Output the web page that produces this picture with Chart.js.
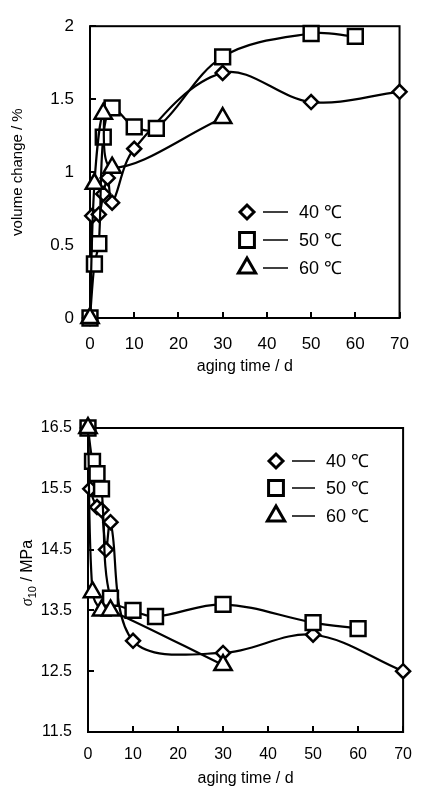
<!DOCTYPE html>
<html>
<head>
<meta charset="utf-8">
<script src="https://cdn.jsdelivr.net/npm/chart.js@4.4.0/dist/chart.umd.min.js"></script>
<style>
  html, body { margin: 0; padding: 0; background: #fff; }
  .box { position: absolute; left: 0; width: 425px; }
  #volBox { top: 0; height: 395px; }
  #strBox { top: 395px; height: 394px; }
</style>
</head>
<body>
<div class="box" id="volBox"><canvas id="volumeChart" width="425" height="395"></canvas></div>
<div class="box" id="strBox"><canvas id="strengthChart" width="425" height="394"></canvas></div>
<script>
// aging time (d) of each series
const days40 = [0, 0.5, 2, 3, 4, 5, 10, 30, 50, 70];
const days50 = [0, 1, 2, 3, 5, 10, 15, 30, 50, 60];
const days60 = [0, 1, 3, 5, 30];

// volume change / %
const vol40 = [0, 0.70, 0.71, 0.85, 0.96, 0.79, 1.16, 1.68, 1.48, 1.55];
const vol50 = [0, 0.37, 0.51, 1.24, 1.44, 1.31, 1.30, 1.79, 1.95, 1.93];
const vol60 = [0, 0.92, 1.40, 1.03, 1.37];

// sigma10 / MPa
const str40 = [16.5, 15.5, 15.2, 15.15, 14.5, 14.95, 13.0, 12.8, 13.1, 12.5];
const str50 = [16.5, 15.95, 15.75, 15.5, 13.7, 13.5, 13.4, 13.6, 13.3, 13.2];
const str60 = [16.5, 13.8, 13.5, 13.5, 12.6];

const tempLabels = ['40 \u2103', '50 \u2103', '60 \u2103'];
const dayTicks = [0, 10, 20, 30, 40, 50, 60, 70];
const volTicks = [0, 0.5, 1, 1.5, 2];
const strTicks = [11.5, 12.5, 13.5, 14.5, 15.5, 16.5];

const FONT = "'Liberation Sans Narrow', 'Liberation Sans', Arial, sans-serif";
const markers = [
  { pointStyle: 'rectRot', radius: 7 },
  { pointStyle: 'rect', radius: 10.5 },
  { pointStyle: 'triangle', radius: 10 }
];

function toXY(xs, ys) {
  return xs.map((x, i) => ({ x: x, y: ys[i] }));
}

function series(label, xs, ys, m, order) {
  return {
    label: label,
    data: toXY(xs, ys),
    borderColor: '#000',
    borderWidth: 2.2,
    backgroundColor: '#fff',
    pointStyle: m.pointStyle,
    pointRadius: m.radius,
    pointBorderWidth: 2.5,
    pointBackgroundColor: '#fff',
    pointBorderColor: '#000',
    tension: 0.35,
    clip: false,
    order: order
  };
}

// box round the plot and short ticks pointing inward
const framePlugin = {
  id: 'frame',
  beforeDatasetsDraw(chart) {
    const { ctx, chartArea: a } = chart;
    const xs = chart.scales.x, ys = chart.scales.y;
    ctx.save();
    ctx.strokeStyle = '#000';
    ctx.lineWidth = 2;
    ctx.strokeRect(a.left, a.top, a.right - a.left, a.bottom - a.top);
    ctx.beginPath();
    xs.ticks.forEach(t => {
      const px = Math.round(xs.getPixelForValue(t.value));
      ctx.moveTo(px, a.bottom);
      ctx.lineTo(px, a.bottom - 6);
    });
    ys.ticks.forEach(t => {
      const py = Math.round(ys.getPixelForValue(t.value));
      ctx.moveTo(a.left, py);
      ctx.lineTo(a.left + 6, py);
    });
    ctx.stroke();
    ctx.restore();
  }
};

function drawMarker(ctx, m, x, y) {
  ctx.fillStyle = '#fff';
  ctx.strokeStyle = '#000';
  ctx.lineWidth = 3;
  Chart.helpers.drawPoint(ctx, { pointStyle: m.pointStyle, radius: m.radius, rotation: 0, borderWidth: 3 }, x, y);
}

// legend inside the plot
function legendPlugin(pos) {
  return {
    id: 'insideLegend',
    afterDraw(chart) {
      const ctx = chart.ctx;
      ctx.save();
      tempLabels.forEach((lab, i) => {
        const y = pos.rows[i];
        drawMarker(ctx, markers[i], pos.mx, y);
        ctx.strokeStyle = '#000';
        ctx.lineWidth = 1.5;
        ctx.beginPath();
        ctx.moveTo(pos.l1, y);
        ctx.lineTo(pos.l2, y);
        ctx.stroke();
        ctx.fillStyle = '#000';
        ctx.font = '18px ' + FONT;
        ctx.textBaseline = 'middle';
        ctx.textAlign = 'left';
        ctx.fillText(lab, pos.tx, y + 1);
      });
      ctx.restore();
    }
  };
}

// rotated y title with subscript: sigma_10 / MPa
const sigmaTitle = {
  id: 'sigmaTitle',
  afterDraw(chart) {
    const ctx = chart.ctx;
    const parts = [
      { t: '\u03c3', f: 'italic 16px "Liberation Serif", serif', dy: 0 },
      { t: '10', f: '11px ' + FONT, dy: 4 },
      { t: ' / MPa', f: '16px ' + FONT, dy: 0 }
    ];
    ctx.save();
    let w = 0;
    parts.forEach(p => { ctx.font = p.f; p.w = ctx.measureText(p.t).width; w += p.w; });
    ctx.translate(32, 178);
    ctx.rotate(-Math.PI / 2);
    ctx.fillStyle = '#000';
    ctx.textBaseline = 'alphabetic';
    let x = -w / 2;
    parts.forEach(p => { ctx.font = p.f; ctx.fillText(p.t, x, p.dy); x += p.w; });
    ctx.restore();
  }
};

function xScale(tickSize, tickPad, height, titlePad) {
  return {
    type: 'linear', min: 0, max: 70,
    afterBuildTicks: s => { s.ticks = dayTicks.map(v => ({ value: v })); },
    afterFit: s => { s.height = height; },
    grid: { display: false, drawTicks: false },
    border: { display: false },
    ticks: { color: '#000', padding: tickPad, maxRotation: 0, font: { family: FONT, size: tickSize }, callback: v => String(v) },
    title: { display: true, text: 'aging time / d', color: '#000', font: { family: FONT, size: 16 }, padding: { top: 0, bottom: titlePad } }
  };
}

function yScale(min, max, ticks, tickSize, width, title) {
  return {
    type: 'linear', min: min, max: max,
    afterBuildTicks: s => { s.ticks = ticks.map(v => ({ value: v })); },
    afterFit: s => { s.width = width; },
    grid: { display: false, drawTicks: false },
    border: { display: false },
    ticks: { color: '#000', padding: 16, font: { family: FONT, size: tickSize }, callback: v => String(v) },
    title: title
  };
}

// volume change chart
new Chart(document.getElementById('volumeChart'), {
  type: 'line',
  data: {
    datasets: [
      series(tempLabels[0], days40, vol40, markers[0], 2),
      series(tempLabels[1], days50, vol50, markers[1], 1),
      series(tempLabels[2], days60, vol60, markers[2], 0)
    ]
  },
  options: {
    responsive: false,
    animation: false,
    devicePixelRatio: 1,
    layout: { padding: { left: 0, right: 20, top: 14, bottom: 0 } },
    plugins: { legend: { display: false }, tooltip: { enabled: false } },
    scales: {
      x: xScale(17, 16, 77, 19),
      y: yScale(0, 2, volTicks, 17, 90, {
        display: true, text: 'volume change / %', color: '#000',
        font: { family: FONT, size: 15 }, padding: { top: 9, bottom: 0 }
      })
    }
  },
  plugins: [framePlugin, legendPlugin({ mx: 247, rows: [212, 240, 268], l1: 263, l2: 288, tx: 299 })]
});

// tensile strength chart
new Chart(document.getElementById('strengthChart'), {
  type: 'line',
  data: {
    datasets: [
      series(tempLabels[0], days40, str40, markers[0], 2),
      series(tempLabels[1], days50, str50, markers[1], 1),
      series(tempLabels[2], days60, str60, markers[2], 0)
    ]
  },
  options: {
    responsive: false,
    animation: false,
    devicePixelRatio: 1,
    layout: { padding: { left: 0, right: 8, top: 33, bottom: 0 } },
    plugins: { legend: { display: false }, tooltip: { enabled: false } },
    scales: {
      x: xScale(16, 13, 57, 1),
      y: yScale(11.5, 16.5, strTicks, 16, 88, { display: false })
    }
  },
  plugins: [framePlugin, legendPlugin({ mx: 276, rows: [66, 93, 121], l1: 292, l2: 315, tx: 326 }), sigmaTitle]
});
</script>
</body>
</html>
